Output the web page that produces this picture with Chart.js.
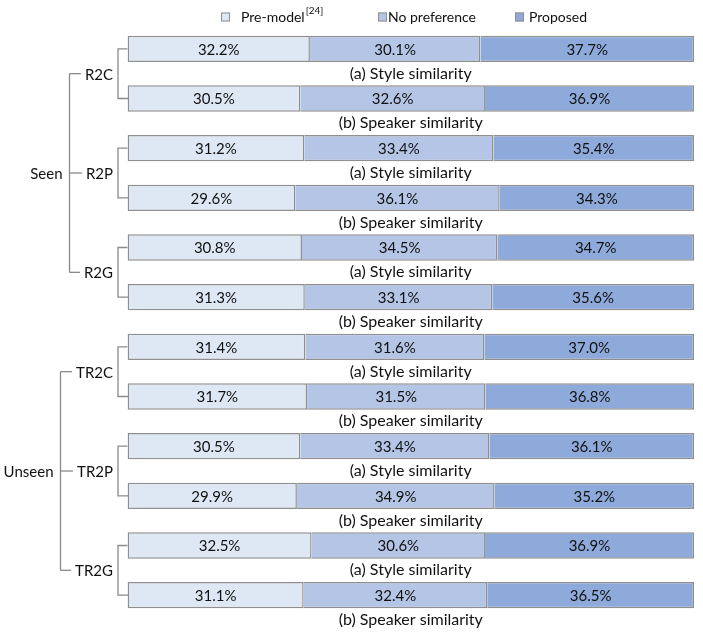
<!DOCTYPE html>
<html>
<head>
<meta charset="utf-8">
<script src="https://cdn.jsdelivr.net/npm/chart.js@4"></script>
<style>
  body { margin: 0; background: #fff; }
  canvas { display: block; }
</style>
</head>
<body>
<canvas id="c" width="703" height="633"></canvas>
<script>
// Data
const domains = ['Seen', 'Unseen'];
const groups = ['R2C', 'R2P', 'R2G', 'TR2C', 'TR2P', 'TR2G'];
const aspects = ['(a) Style similarity', '(b) Speaker similarity'];
const seriesNames = ['Pre-model', 'No preference', 'Proposed'];

const preModel = [32.2, 30.5, 31.2, 29.6, 30.8, 31.3, 31.4, 31.7, 30.5, 29.9, 32.5, 31.1];
const noPreference = [30.1, 32.6, 33.4, 36.1, 34.5, 33.1, 31.6, 31.5, 33.4, 34.9, 30.6, 32.4];
const proposed = [37.7, 36.9, 35.4, 34.3, 34.7, 35.6, 37.0, 36.8, 36.1, 35.2, 36.9, 36.5];

const colors = ['#dee8f4', '#b5c5e6', '#8eaadb'];
const edge = '#8f8f8f';
const lineCol = '#8a8a8a';
const textCol = '#111';
const FONT = 'Lato, "Open Sans", sans-serif';

// one row per group x aspect
const rows = [];
groups.forEach(g => aspects.forEach(a => rows.push(g + ' ' + a)));

const treePlugin = {
    id: 'tree',
    afterDatasetsDraw(chart) {
        const ctx = chart.ctx;
        const area = chart.chartArea;
        const yScale = chart.scales.y;
        const pitch = yScale.getPixelForValue(1) - yScale.getPixelForValue(0);

        ctx.save();
        ctx.fillStyle = textCol;
        ctx.textBaseline = 'middle';
        ctx.textAlign = 'center';

        // value labels inside each segment
        ctx.font = '15px ' + FONT;
        chart.data.datasets.forEach((ds, di) => {
            chart.getDatasetMeta(di).data.forEach((bar, i) => {
                ctx.fillText(ds.data[i].toFixed(1) + '%', (bar.x + bar.base) / 2, bar.y + 1);
            });
        });

        // captions under each bar
        ctx.font = '16px ' + FONT;
        const midX = (area.left + area.right) / 2;
        rows.forEach((r, i) => {
            const y = yScale.getPixelForValue(i) + pitch / 2;
            ctx.fillText(aspects[i % aspects.length], midX, y);
        });

        // tree on the left
        ctx.strokeStyle = lineCol;
        ctx.lineWidth = 1.3;
        const bx = area.left - 9.5;
        const labelRight = area.left - 14.5;
        const groupY = [];
        groups.forEach((g, gi) => {
            const ya = yScale.getPixelForValue(gi * 2);
            const yb = yScale.getPixelForValue(gi * 2 + 1);
            ctx.beginPath();
            ctx.moveTo(area.left, ya);
            ctx.lineTo(bx, ya);
            ctx.lineTo(bx, yb);
            ctx.lineTo(area.left + 1.5, yb);
            ctx.stroke();
            groupY.push((ya + yb) / 2);
        });

        ctx.font = '15px ' + FONT;
        const perDomain = groups.length / domains.length;
        domains.forEach((d, di) => {
            const gs = groups.slice(di * perDomain, (di + 1) * perDomain);
            const ys = groupY.slice(di * perDomain, (di + 1) * perDomain);
            const maxW = Math.max(...gs.map(g => ctx.measureText(g).width));
            const vx = Math.round(labelRight - maxW - 15) + 0.5;
            ctx.beginPath();
            ctx.moveTo(vx, ys[0]);
            ctx.lineTo(vx, ys[ys.length - 1]);
            ctx.stroke();
            gs.forEach((g, k) => {
                const w = ctx.measureText(g).width;
                ctx.beginPath();
                ctx.moveTo(vx, ys[k]);
                ctx.lineTo(labelRight - w - 4, ys[k]);
                ctx.stroke();
                ctx.textAlign = 'right';
                ctx.fillText(g, labelRight, ys[k] + 1);
            });
            ctx.textAlign = 'right';
            ctx.fillText(d, vx - 7, ys[Math.floor(ys.length / 2)] + 1);
        });

        // legend
        const items = [
            { box: 221, text: 241 },
            { box: 378, text: 388 },
            { box: 515, text: 529 }
        ];
        const ly = 17;
        ctx.textAlign = 'left';
        seriesNames.forEach((name, i) => {
            ctx.fillStyle = colors[i];
            ctx.fillRect(items[i].box, ly - 4.5, 9, 9);
            ctx.strokeStyle = edge;
            ctx.lineWidth = 1;
            ctx.strokeRect(items[i].box + 0.5, ly - 4, 8, 8);
            ctx.fillStyle = textCol;
            ctx.font = '14px ' + FONT;
            ctx.fillText(name, items[i].text, ly);
            if (i === 0) {
                const w = ctx.measureText(name).width;
                ctx.font = '10px ' + FONT;
                ctx.fillText('[24]', items[i].text + w + 1, ly - 6);
            }
        });
        ctx.restore();
    }
};

new Chart(document.getElementById('c'), {
    type: 'bar',
    data: {
        labels: rows,
        datasets: [
            { label: seriesNames[0], data: preModel, backgroundColor: colors[0], borderSkipped: false },
            { label: seriesNames[1], data: noPreference, backgroundColor: colors[1], borderSkipped: 'start' },
            { label: seriesNames[2], data: proposed, backgroundColor: colors[2], borderSkipped: 'start' }
        ].map(ds => Object.assign(ds, {
            borderColor: edge,
            borderWidth: 1.5,
            categoryPercentage: 1,
            barPercentage: 0.53
        }))
    },
    options: {
        indexAxis: 'y',
        responsive: false,
        animation: false,
        layout: { padding: { left: 127.5, right: 9, top: 24, bottom: 13 } },
        scales: {
            x: { stacked: true, min: 0, max: 100, display: false },
            y: { stacked: true, display: false }
        },
        plugins: {
            legend: { display: false },
            tooltip: { enabled: false }
        }
    },
    plugins: [treePlugin]
});
</script>
</body>
</html>
